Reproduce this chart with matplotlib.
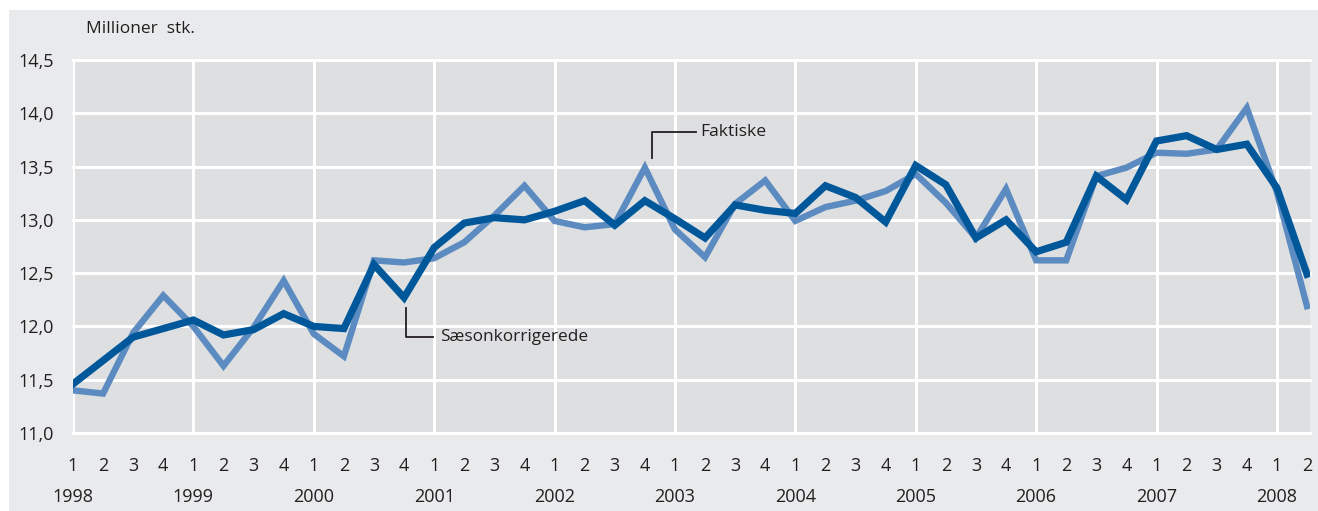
import matplotlib.pyplot as plt
from matplotlib.patches import Rectangle

# Quarterly data 1998Q1 - 2008Q2 (millions)
years = list(range(1998, 2009))
quarters = [1, 2, 3, 4] * 10 + [1, 2]

faktiske = [11.40, 11.37, 11.94, 12.29,
            12.00, 11.63, 11.99, 12.43,
            11.93, 11.72, 12.62, 12.60,
            12.64, 12.79, 13.04, 13.32,
            12.99, 12.93, 12.96, 13.49,
            12.91, 12.65, 13.15, 13.37,
            12.99, 13.12, 13.18, 13.27,
            13.43, 13.16, 12.83, 13.29,
            12.62, 12.62, 13.41, 13.49,
            13.63, 13.62, 13.66, 14.05,
            13.26, 12.19]

saesonkorrigerede = [11.46, 11.68, 11.90, 11.98,
                     12.06, 11.92, 11.97, 12.12,
                     12.00, 11.98, 12.58, 12.27,
                     12.74, 12.97, 13.02, 13.00,
                     13.08, 13.18, 12.95, 13.18,
                     13.01, 12.83, 13.14, 13.09,
                     13.06, 13.32, 13.21, 12.98,
                     13.51, 13.33, 12.83, 13.00,
                     12.70, 12.79, 13.41, 13.19,
                     13.74, 13.79, 13.66, 13.71,
                     13.30, 12.49]

LIGHT = '#5b8bc0'
DARK = '#00589b'
PANEL = '#e9eaec'
PLOT_BG = '#dedfe1'
TEXT = '#231f20'

plt.rcParams['font.family'] = ['Open Sans', 'DejaVu Sans']

W, H = 1318, 511
fig = plt.figure(figsize=(W / 100, H / 100), dpi=100)
fig.patch.set_facecolor('white')
bg = Rectangle((9 / W, 0), 1 - 9 / W, 1 - 10 / H, transform=fig.transFigure,
               facecolor=PANEL, edgecolor='none', zorder=-10)
fig.add_artist(bg)

left, right, top, bottom = 73, 1310, 60, 433
ax = fig.add_axes([left / W, 1 - bottom / H, (right - left) / W, (bottom - top) / H])
ax.set_zorder(1)
ax.set_facecolor(PLOT_BG)

x = list(range(len(faktiske)))
ax.plot(x, faktiske, color=LIGHT, lw=4.6, solid_joinstyle='miter', zorder=3)
ax.plot(x, saesonkorrigerede, color=DARK, lw=5.2, solid_joinstyle='miter', zorder=4)

ax.set_xlim(0, 41.1)
ax.set_ylim(11.0, 14.5)

# gridlines
yticks = [11.0, 11.5, 12.0, 12.5, 13.0, 13.5, 14.0, 14.5]
ax.set_yticks(yticks)
ax.set_yticklabels([f'{v:.1f}'.replace('.', ',') for v in yticks])
for yv in yticks:
    ax.axhline(yv, color='white', lw=2.2, zorder=1, clip_on=False)
year_pos = [4 * i for i in range(len(years))]
for xv in year_pos:
    ax.axvline(xv, color='white', lw=2.2, zorder=1)

ax.set_xticks(x)
ax.set_xticklabels([str(q) for q in quarters])
ax.tick_params(axis='x', length=0, pad=17, labelsize=13, colors=TEXT)
ax.tick_params(axis='y', length=0, pad=14, labelsize=13, colors=TEXT)
for s in ax.spines.values():
    s.set_visible(False)

for xv, yr in zip(year_pos, years):
    ax.text(xv, -0.172, str(yr), transform=ax.get_xaxis_transform(),
            ha='center', va='center', fontsize=13, color=TEXT, clip_on=False)

fig.text(86 / W, 1 - 29 / H, 'Millioner  stk.', ha='left', va='center',
         fontsize=12.5, color=TEXT)

# annotations
ax.plot([19.24, 19.24, 20.7], [13.58, 13.825, 13.825], color=TEXT, lw=1.3, zorder=5)
ax.text(20.85, 13.82, 'Faktiske', ha='left', va='center', fontsize=12.6, color=TEXT, zorder=5)
ax.plot([11.08, 11.08, 11.96], [12.17, 11.90, 11.90], color=TEXT, lw=1.3, zorder=5)
ax.text(12.2, 11.90, 'Sæsonkorrigerede', ha='left', va='center', fontsize=12.4,
        color=TEXT, zorder=5)

fig.savefig('out.png', dpi=100, facecolor=fig.get_facecolor())
